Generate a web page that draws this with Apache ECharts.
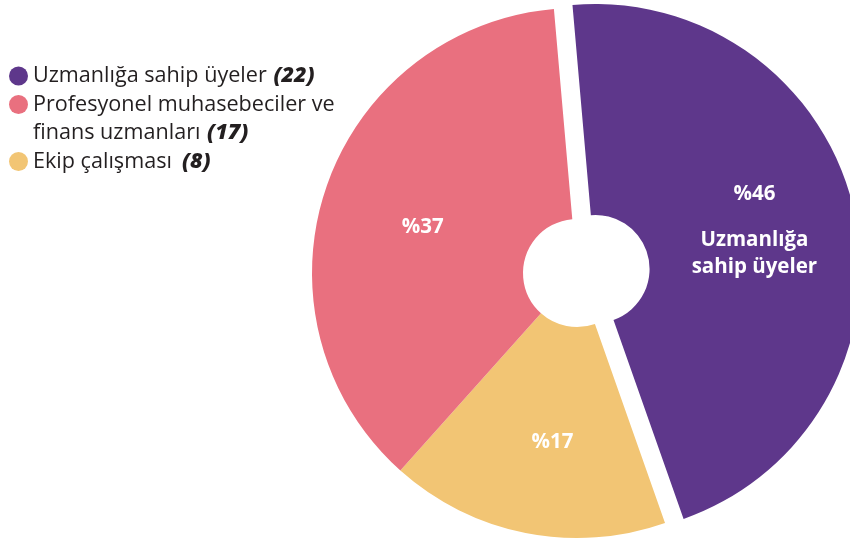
<!DOCTYPE html>
<html>
<head>
<meta charset="utf-8">
<script src="https://cdn.jsdelivr.net/npm/echarts@6/dist/echarts.min.js"></script>
<style>
  html, body { margin: 0; padding: 0; background: #fff; }
  #chart { width: 850px; height: 539px; }
</style>
</head>
<body>
<div id="chart"></div>
<script>
// slices in clockwise order from the top
var names = ['Uzmanlığa sahip üyeler', 'Ekip çalışması', 'Profesyonel muhasebeciler ve\nfinans uzmanları'];
var shares = [46, 17, 37];
var counts = [22, 8, 17];
var pctLabels = ['%46', '%17', '%37'];
var colors = ['#5e378b', '#f2c574', '#e9707f'];
var legendOrder = [0, 2, 1];
var legendTops = [65, 93.5, 150.5];

function drawPie() {
    var chart = echarts.init(document.getElementById('chart'));

    // label nudges so the texts sit where the original has them
    var labelPads = [[0, 0, 27, 0], [20, 0, 0, 14], [10, 0, 0, 0]];

    var pieData = [];
    for (var i = 0; i < names.length; i++) {
        pieData.push({
            name: names[i],
            value: shares[i],
            selected: i === 0,
            itemStyle: { color: colors[i] },
            label: { padding: labelPads[i] }
        });
    }

    // one legend per item so the wrapped one keeps its dot on line one
    var legends = [];
    for (var k = 0; k < legendOrder.length; k++) {
        var idx = legendOrder[k];
        var twoLines = names[idx].indexOf('\n') >= 0;
        legends.push({
            data: [names[idx]],
            orient: 'vertical',
            left: 9,
            top: legendTops[k],
            padding: 0,
            icon: 'circle',
            itemWidth: 19,
            itemHeight: 19,
            itemGap: 0,
            selectedMode: false,
            formatter: function(name) {
                var n = counts[names.indexOf(name)];
                var gap = n < 10 ? '   ' : '  ';
                return '{t|' + name.replace('\n', '}\n{t|') + '}' + gap + '{c|(' + n + ')}';
            },
            textStyle: {
                padding: twoLines ? [28.5, 0, 0, 0] : 0,
                rich: {
                    t: { fontFamily: 'Open Sans', fontSize: 21.6, color: '#231f20', lineHeight: 28.5 },
                    c: { fontFamily: 'Open Sans', fontSize: 21.6, fontWeight: 800, fontStyle: 'italic', color: '#231f20', lineHeight: 28.5 }
                }
            }
        });
    }

    var option = {
        animation: false,
        legend: legends,
        series: [{
            type: 'pie',
            center: [577, 273],
            radius: [54, 265],
            startAngle: 95,
            clockwise: true,
            selectedMode: 'single',
            selectedOffset: 19,
            avoidLabelOverlap: false,
            emphasis: { disabled: true },
            label: {
                show: true,
                position: 'inside',
                color: '#fff',
                fontFamily: 'Open Sans',
                fontWeight: 'bold',
                fontSize: 20.5,
                formatter: function(p) {
                    if (p.dataIndex === 0) {
                        return '{p|' + pctLabels[0] + '}\n{t|Uzmanlığa}\n{t|sahip üyeler}';
                    }
                    return '{p|' + pctLabels[p.dataIndex] + '}';
                },
                rich: {
                    p: { color: '#fff', fontFamily: 'Open Sans', fontWeight: 'bold', fontSize: 20.5, lineHeight: 65 },
                    t: { color: '#fff', fontFamily: 'Open Sans', fontWeight: 'bold', fontSize: 20.5, lineHeight: 27 }
                }
            },
            labelLine: { show: false },
            data: pieData
        }]
    };
    chart.setOption(option);
}
drawPie();
</script>
</body>
</html>
